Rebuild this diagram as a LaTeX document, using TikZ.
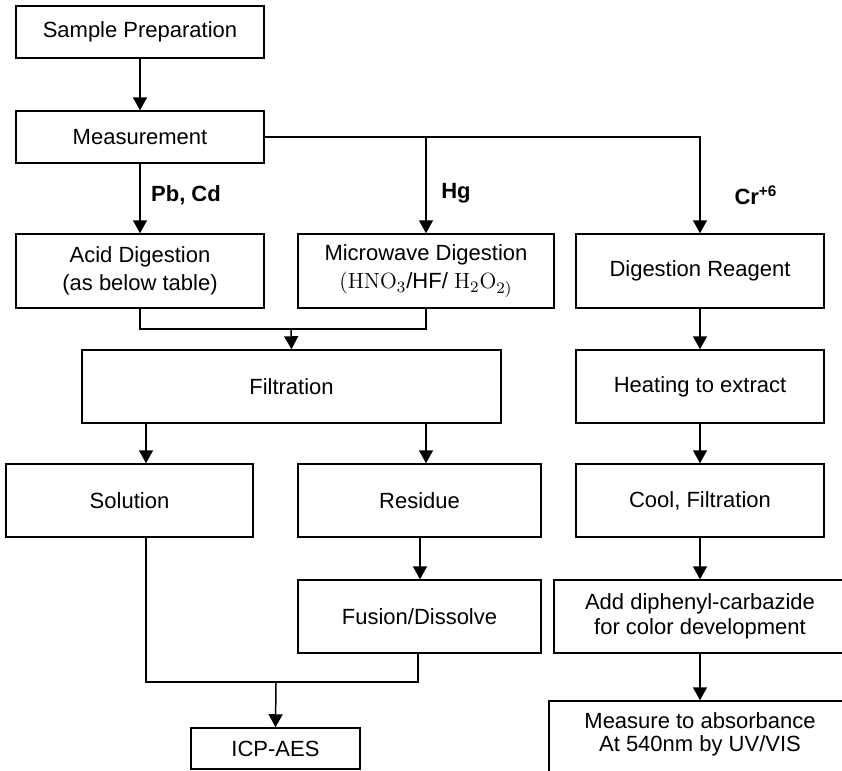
\documentclass[tikz,border=0pt]{standalone}
\usepackage{fontspec}
\newfontfamily\boxfont{Liberation Sans}
\usetikzlibrary{arrows.meta}
\begin{document}
\begin{tikzpicture}[x=0.5pt,y=-0.5pt,
    box/.style={draw,line width=0.75pt,align=center,inner sep=0pt,
      font=\boxfont\fontsize{11}{14}\selectfont},
    lab/.style={font=\boxfont\bfseries\fontsize{11}{13}\selectfont},
    line/.style={line width=0.75pt},
    arrow/.style={line,-{Triangle[length=6.5pt,width=7pt]}}]
  \useasboundingbox (0,0) rectangle (842,771);
  \clip (0,0) rectangle (842,771);
  % boxes
  \node[box,minimum width=124pt,minimum height=26pt] (prep) at (140,32) {Sample Preparation};
  \node[box,minimum width=124pt,minimum height=26pt] (meas) at (140,137) {Measurement};
  \node[box,minimum width=124pt,minimum height=37pt] (acid) at (140,271)
    {Acid Digestion\\(as below table)};
  \node[box,minimum width=128pt,minimum height=37pt] (micro) at (426,271)
    {Microwave Digestion\\{\rmfamily (HNO$_3$}/HF/ {\rmfamily H$_2$O$_{2)}$}};
  \node[box,minimum width=124pt,minimum height=37pt] (reag) at (700,271) {Digestion Reagent};
  \node[box,minimum width=209.5pt,minimum height=36.5pt] (filt) at (291.5,386.5) {Filtration};
  \node[box,minimum width=124pt,minimum height=36.5pt] (heat) at (700,386.5) {Heating to extract};
  \node[box,minimum width=123.5pt,minimum height=36.5pt] (sol) at (129.5,500.5) {Solution};
  \node[box,minimum width=121.5pt,minimum height=36.5pt] (res) at (419.5,500.5) {Residue};
  \node[box,minimum width=124pt,minimum height=36.5pt] (cool) at (700,500.5) {Cool, Filtration};
  \node[box,minimum width=121.5pt,minimum height=36.5pt] (fus) at (419.5,616.5) {Fusion/Dissolve};
  \node[box,minimum width=146pt,minimum height=36.5pt,font=\boxfont\fontsize{11}{12.5}\selectfont] (add) at (700,616.5)
    {Add diphenyl-carbazide\\for color development};
  \node[box,minimum width=84.5pt,minimum height=20.5pt] (icp) at (275.5,748.5) {ICP-AES};
  \node[box,minimum width=151pt,minimum height=39.5pt,font=\boxfont\fontsize{11}{11.5}\selectfont] (absorb) at (700,740.5)
    {\raisebox{2.5pt}[\height][\depth]{\begin{tabular}{@{}c@{}}Measure to absorbance\\At 540nm by UV/VIS\end{tabular}}};
  % labels
  \node[lab] (pbcd) at (186,195) {Pb, Cd};
  \node[lab] (hg) at (456,193) {Hg};
  \node[lab] (cr) at (756,195) {Cr\textsuperscript{+6}};
  % connectors
  \coordinate (j1) at (291,329);
  \coordinate (j2) at (276,682);
  \draw[arrow] (prep) -- (meas);
  \draw[arrow] (meas) -- (acid);
  \draw[arrow] (meas.east) -| (reag.north);
  \draw[arrow] (meas.east -| micro.north) -- (micro.north);
  \draw[line] (acid.south) |- (j1) -| (micro.south);
  \draw[arrow] (j1) -- (filt.north);
  \draw[arrow] ([xshift=8.25pt]sol.north |- filt.south) -- ([xshift=8.25pt]sol.north);
  \draw[arrow] ([xshift=3.25pt]res.north |- filt.south) -- ([xshift=3.25pt]res.north);
  \draw[arrow] ([xshift=0.25pt]res.south) -- ([xshift=0.25pt]fus.north);
  \draw[line] ([xshift=8.25pt]sol.south) |- (j2) -| ([xshift=-0.75pt]fus.south);
  \draw[arrow] (j2) -- (icp.north);
  \draw[arrow] (reag) -- (heat);
  \draw[arrow] (heat) -- (cool);
  \draw[arrow] (cool) -- (add);
  \draw[arrow] (add) -- (absorb);
\end{tikzpicture}
\end{document}
